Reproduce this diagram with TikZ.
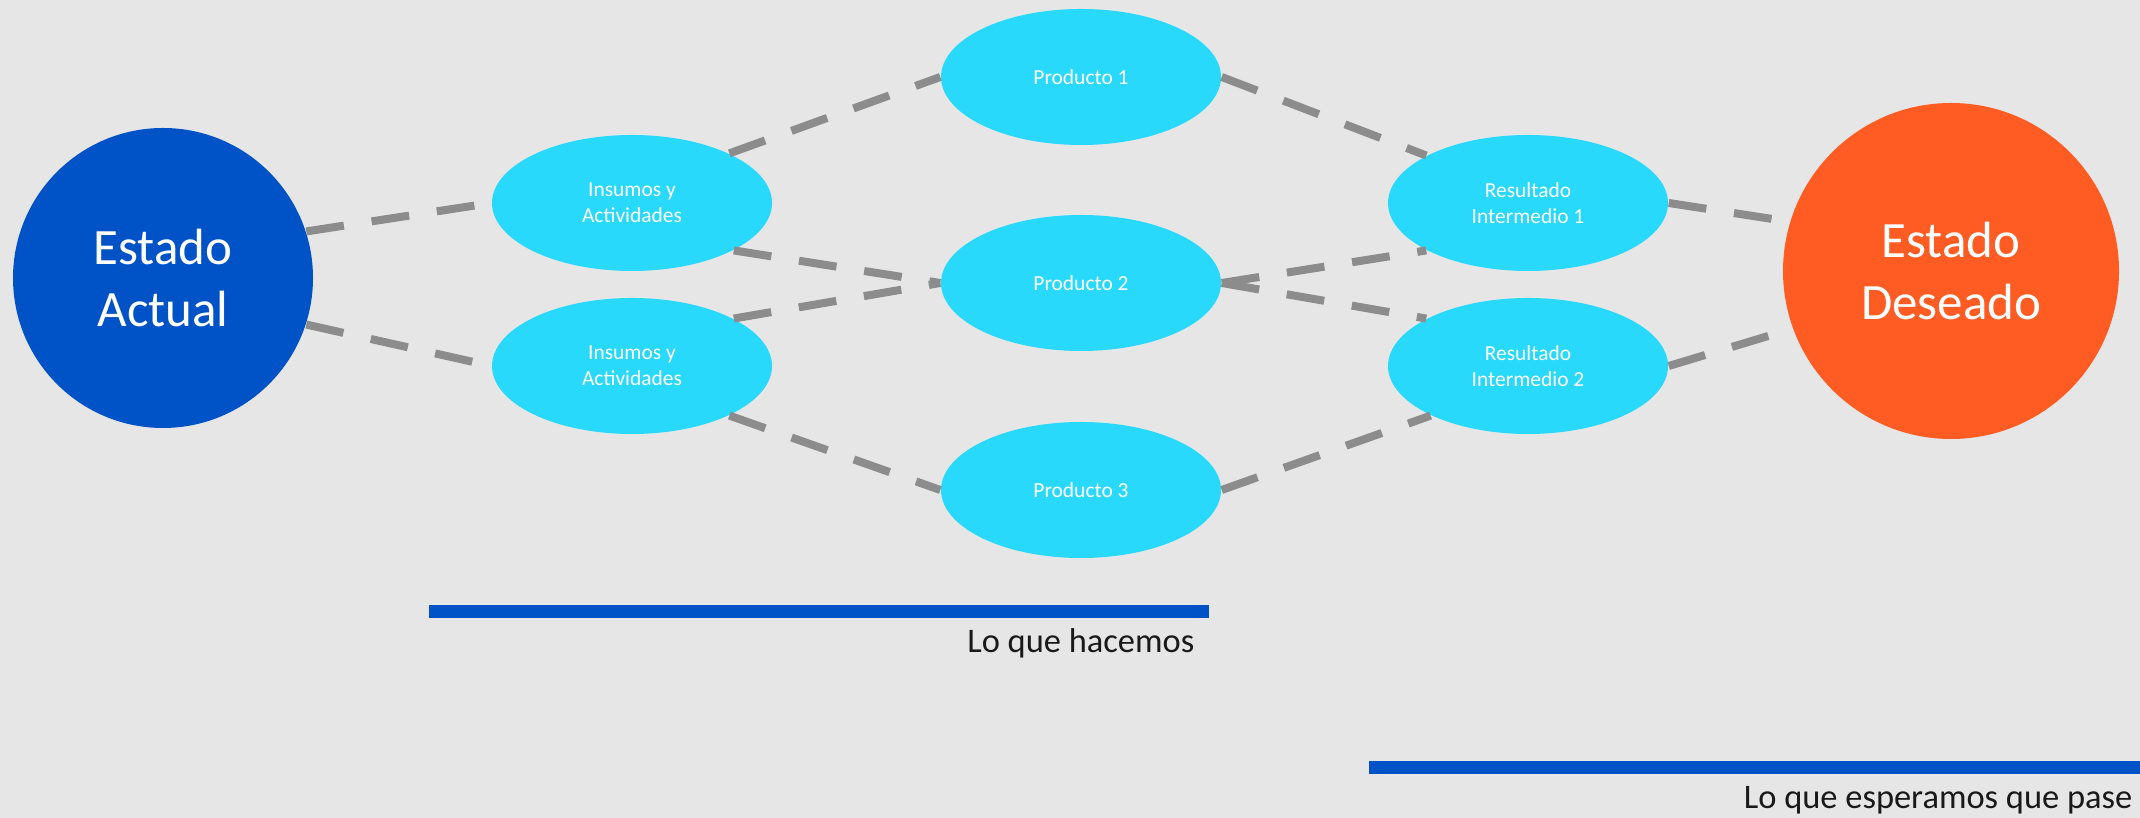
\documentclass[tikz,border=0pt]{standalone}
\usepackage{fontspec}
\setmainfont{Carlito}
\usetikzlibrary{shapes.geometric,positioning}
\definecolor{bgc}{rgb}{0.902,0.902,0.902}
\definecolor{eac}{rgb}{0.0,0.32,0.78}
\definecolor{edc}{rgb}{1.0,0.36,0.14}
\definecolor{pac}{rgb}{0.16,0.85,0.99}
\definecolor{lnc}{rgb}{0.55,0.55,0.55}

\begin{document}
\begin{tikzpicture}[node distance=20.6mm, estado/.style={circle, inner sep=0pt, text=white, align=center, font=\fontsize{14.5}{17.8}\selectfont}, paso/.style={ellipse, fill=pac, inner sep=0pt, minimum width=28mm, minimum height=13.6mm, text=white, align=center, font=\fontsize{6.1}{7.4}\selectfont}, enlace/.style={draw=lnc, line width=0.08cm, dash pattern=on 0.38cm off 0.28cm}, barra/.style={draw=eac, line width=0.13cm}, etiqueta/.style={anchor=base east, inner sep=0pt, text=black!90, font=\fontsize{9.8}{11}\selectfont}]

    \fill[bgc] (-1.63,2.78) rectangle (19.77,-5.40);
    \useasboundingbox (-1.63,2.78) rectangle (19.77,-5.40);

    \node[estado, fill=eac, minimum size=30mm] (actual) at (0,0) {Estado\\Actual};
    \node[paso] (ins1) at (4.69,0.75) {Insumos y\\Actividades};
    \node[paso] (ins2) at (4.69,-0.88) {Insumos y\\Actividades};
    \node[paso] (prod2) at (9.18,-0.05) {Producto 2};
    \node[paso, above of=prod2] (prod1) {Producto 1};
    \node[paso, below of=prod2, node distance=20.7mm] (prod3) {Producto 3};
    \node[paso, right of=ins1, node distance=89.6mm] (res1) {Resultado\\Intermedio 1};
    \node[paso, right of=ins2, node distance=89.6mm] (res2) {Resultado\\Intermedio 2};
    \node[estado, fill=edc, minimum size=33.6mm] (deseado) at (17.88,0.07) {Estado\\Deseado};

    \draw[enlace] (actual.18) -- (ins1.west);
    \draw[enlace] (actual.-18) -- (ins2.west);
    \draw[enlace] (ins1.27) -- (prod1.west);
    \draw[enlace] (ins1.-25) -- (prod2.west);
    \draw[enlace] (ins2.25) -- (prod2.west);
    \draw[enlace] (ins2.-27) -- (prod3.west);
    \draw[enlace] (prod1.east) -- (res1.155);
    \draw[enlace] (prod2.east) -- (res1.205);
    \draw[enlace] (prod2.east) -- (res2.155);
    \draw[enlace] (prod3.east) -- (res2.207);
    \draw[enlace] (res1.east) -- (deseado.163);
    \draw[enlace] (res2.east) -- (deseado.200);

    \coordinate (hace1) at (2.66,-3.34);
    \coordinate (hace2) at (10.46,-3.34);
    \coordinate (espe1) at (12.06,-4.90);
    \coordinate (espe2) at (19.77,-4.90);
    \draw[barra] (hace1) -- (hace2);
    \draw[barra] (espe1) -- (espe2);
    \node[etiqueta] (hacemos) at (10.32,-3.75) {Lo que hacemos};
    \node[etiqueta] (esperamos) at (19.70,-5.31) {Lo que esperamos que pase};

  \end{tikzpicture}
\end{document}
